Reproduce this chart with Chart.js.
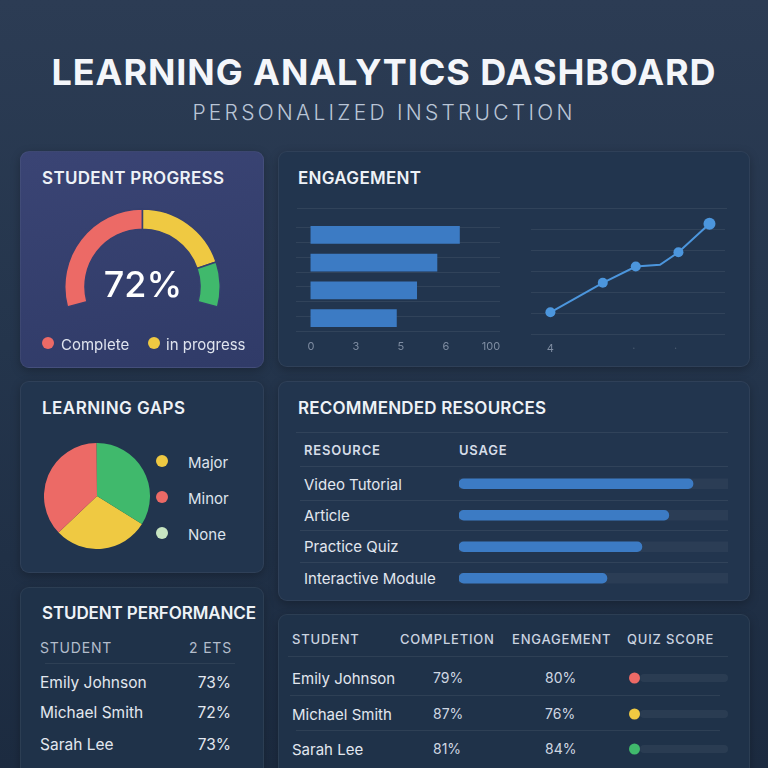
<!DOCTYPE html>
<html>
<head>
<meta charset="utf-8">
<title>Learning Analytics Dashboard</title>
<script src="https://cdn.jsdelivr.net/npm/chart.js@4.4.1/dist/chart.umd.min.js"></script>
<style>
  html, body { margin: 0; padding: 0; }
  body {
    width: 768px; height: 768px; overflow: hidden; position: relative;
    font-family: Inter, "Noto Sans", sans-serif; color: #e6ebf2;
    background: linear-gradient(180deg, #2c3c54 0%, #24354c 45%, #1c2b40 100%);
  }
  .card { position: absolute; border-radius: 9px; background: #22354e; box-sizing: border-box;
    border: 1px solid rgba(255,255,255,0.06); box-shadow: 0 3px 10px rgba(0,0,0,0.25); }
  .t { position: absolute; line-height: 1; white-space: nowrap; transform: translateY(-50%); }
  .h { font-size: 17px; font-weight: 600; color: #eef2f7; letter-spacing: 0.6px; }
  .th { font-size: 13px; font-weight: 600; color: #d6dde8; letter-spacing: 0.8px; }
  .cell { font-size: 15px; color: #e2e7ef; }
  .rule { position: absolute; height: 1px; background: rgba(255,255,255,0.07); }
  canvas { position: absolute; }
</style>
</head>
<body>

<div class="t" style="left:0;width:768px;text-align:center;top:72px;font-size:36px;font-weight:700;color:#f4f6fa" data-w="664">LEARNING ANALYTICS DASHBOARD</div>
<div class="t" style="left:0;width:768px;text-align:center;top:112px;font-size:21px;font-weight:300;color:#b9c5d6" data-w="380">PERSONALIZED INSTRUCTION</div>

<!-- cards -->
<div class="card" style="left:20px;top:151px;width:244px;height:217px;background:linear-gradient(170deg,#3a4474 0%,#303b68 100%)"></div>
<div class="card" style="left:278px;top:151px;width:472px;height:216px"></div>
<div class="card" style="left:20px;top:381px;width:244px;height:192px"></div>
<div class="card" style="left:278px;top:381px;width:472px;height:220px"></div>
<div class="card" style="left:20px;top:587px;width:244px;height:200px;background:#1f3249"></div>
<div class="card" style="left:278px;top:614px;width:472px;height:180px;background:#1f3249"></div>

<!-- student progress -->
<div class="t h" style="left:42px;top:178px" data-w="182">STUDENT PROGRESS</div>
<canvas id="gauge" width="157" height="100" style="left:64px;top:208px"></canvas>
<div class="t" style="left:43px;width:200px;text-align:center;top:284px;font-size:36px;font-weight:500;color:#ffffff">72%</div>
<div id="progressLegend"></div>

<!-- engagement -->
<div class="t h" style="left:298px;top:178px" data-w="123">ENGAGEMENT</div>
<div class="rule" style="left:297px;top:208px;width:430px"></div>
<canvas id="engBars" width="214" height="141" style="left:296px;top:221px"></canvas>
<canvas id="engLine" width="210" height="153" style="left:525px;top:211px"></canvas>

<!-- learning gaps -->
<div class="t h" style="left:42px;top:408px" data-w="143">LEARNING GAPS</div>
<canvas id="gapsPie" width="106" height="106" style="left:44px;top:443px"></canvas>
<div id="gapsLegend"></div>

<!-- recommended resources -->
<div class="t h" style="left:298px;top:408px" data-w="248">RECOMMENDED RESOURCES</div>
<div class="rule" style="left:296px;top:432px;width:432px"></div>
<div class="t th" style="left:304px;top:450px">RESOURCE</div>
<div class="t th" style="left:459px;top:450px">USAGE</div>
<div id="resourceRows"></div>
<canvas id="resBars" width="269" height="126" style="left:459px;top:468px"></canvas>

<!-- student performance -->
<div class="t h" style="left:42px;top:613px" data-w="214">STUDENT PERFORMANCE</div>
<div class="t" style="left:40px;top:648px;font-size:14px;color:#b3bdcc;letter-spacing:0.8px">STUDENT</div>
<div class="t" style="right:536px;top:648px;font-size:14px;color:#b3bdcc;letter-spacing:0.8px">2 ETS</div>
<div class="rule" style="left:45px;top:663px;width:190px"></div>
<div id="perfRows"></div>

<!-- student table -->
<div class="t th" style="left:292px;top:639px;font-weight:500;color:#cbd4e0">STUDENT</div>
<div class="t th" style="left:400px;top:639px;font-weight:500;color:#cbd4e0">COMPLETION</div>
<div class="t th" style="left:512px;top:639px;font-weight:500;color:#cbd4e0">ENGAGEMENT</div>
<div class="t th" style="left:627px;top:639px;font-weight:500;color:#cbd4e0">QUIZ SCORE</div>
<div class="rule" style="left:288px;top:656px;width:440px"></div>
<div class="rule" style="left:290px;top:695px;width:430px"></div>
<div class="rule" style="left:296px;top:730px;width:424px"></div>
<div id="tableRows"></div>

<script>
// ---- data ----
const progressLabels = ['Complete', 'In progress', 'Ahead'];
const progressValues = [50, 34, 16];

const engagementCats = ['1', '2', '3', '4'];
const engagementBars = [3.3, 2.8, 2.35, 1.9];
const engagementTicks = ['0', '3', '5', '6', '100'];

const trendX = [4, 9.4, 12.8, 15.3, 17.2, 20.4];
const trendY = [1.04, 2.45, 3.23, 3.31, 3.91, 5.28];
const trendTicks = [4, 12.6, 16.9];
const trendTickLabels = ['4', '·', '·'];

const gapLabels = ['Major', 'Minor', 'None'];
const gapValues = [29, 37, 34];

const resourceNames = ['Video Tutorial', 'Article', 'Practice Quiz', 'Interactive Module'];
const resourceUsage = [87, 78, 68, 55];
const resourceMax = 100;

const studentNames = ['Emily Johnson', 'Michael Smith', 'Sarah Lee'];
const studentTotals = [73, 72, 73];
const studentCompletion = [79, 87, 81];
const studentEngagement = [80, 76, 84];
const quizStatus = ['low', 'mid', 'high'];

// ---- styles ----
const RED = '#ec6a66', YELLOW = '#efc942', GREEN = '#40b96c', BLUE = '#3c7bc4', LINE = '#4c96dd';
const GRID = 'rgba(255,255,255,0.07)';
const statusColor = { low: RED, mid: YELLOW, high: GREEN };

Chart.defaults.animation = false;
Chart.defaults.responsive = false;
Chart.defaults.devicePixelRatio = 1;
Chart.defaults.plugins.legend.display = false;
Chart.defaults.plugins.tooltip.enabled = false;
Chart.defaults.font.family = 'Inter, "Noto Sans", sans-serif';

function put(parent, text, style, cls) {
    const el = document.createElement('div');
    el.className = 't ' + (cls || '');
    el.textContent = text;
    el.setAttribute('style', style);
    document.getElementById(parent).appendChild(el);
    return el;
}

// gauge
new Chart(document.getElementById('gauge'), {
    type: 'doughnut',
    data: {
        labels: progressLabels,
        datasets: [{ data: progressValues, backgroundColor: [RED, YELLOW, GREEN], borderColor: '#36406f', borderWidth: 1.5 }]
    },
    options: { rotation: -105, circumference: 210, cutout: '74%' }
});
put('progressLegend', '', 'left:42px;top:343px;width:12px;height:12px;background:' + RED + ';border-radius:50%');
put('progressLegend', progressLabels[0], 'left:61px;top:344px;font-size:15px;color:#dfe4ee');
put('progressLegend', '', 'left:148px;top:343px;width:12px;height:12px;background:' + YELLOW + ';border-radius:50%');
put('progressLegend', progressLabels[1].toLowerCase(), 'left:166px;top:344px;font-size:15px;color:#dfe4ee');

// engagement bars
new Chart(document.getElementById('engBars'), {
    type: 'bar',
    data: { labels: engagementCats, datasets: [{ data: engagementBars, backgroundColor: BLUE, barThickness: 17 }] },
    options: {
        indexAxis: 'y',
        layout: { padding: { right: 10 } },
        scales: {
            x: {
                min: -0.33, max: 4.2,
                afterBuildTicks: s => { s.ticks = engagementTicks.map((t, i) => ({ value: i })); },
                ticks: { callback: v => engagementTicks[v], color: '#7f8da2', font: { size: 11 }, padding: 8, maxRotation: 0, autoSkip: false },
                grid: { display: false, drawTicks: false }, border: { display: false },
                afterFit: s => { s.height = 30; }
            },
            y: { display: false },
            yGrid: {
                axis: 'y', type: 'linear', position: 'left', min: 0, max: 6.4,
                ticks: { display: false, stepSize: 1, includeBounds: false },
                grid: { color: GRID, drawTicks: false }, border: { display: false },
                afterFit: s => { s.width = 0; }
            }
        }
    }
});

// engagement trend
new Chart(document.getElementById('engLine'), {
    type: 'line',
    data: {
        datasets: [{
            data: trendX.map((x, i) => ({ x: x, y: trendY[i] })),
            borderColor: LINE, backgroundColor: LINE, borderWidth: 2,
            pointRadius: [5, 5, 5, 0, 5, 6], pointBorderWidth: 0, tension: 0, clip: false
        }]
    },
    options: {
        layout: { padding: { right: 10 } },
        scales: {
            x: {
                type: 'linear', min: 2, max: 22,
                afterBuildTicks: s => { s.ticks = trendTicks.map(v => ({ value: v })); },
                ticks: {
                    callback: (v, i) => trendTickLabels[i],
                    color: ctx => ctx.index === 0 ? '#7f8da2' : '#4b5b71',
                    font: { size: 11 }, padding: 8, maxRotation: 0, autoSkip: false
                },
                grid: { display: false, drawTicks: false }, border: { display: false },
                afterFit: s => { s.height = 30; }
            },
            y: {
                min: 0, max: 5.6,
                ticks: { display: false, stepSize: 1, includeBounds: false },
                grid: { color: GRID, drawTicks: false }, border: { display: false },
                afterFit: s => { s.width = 0; }
            }
        }
    }
});

// learning gaps
new Chart(document.getElementById('gapsPie'), {
    type: 'pie',
    data: { labels: gapLabels, datasets: [{ data: gapValues, backgroundColor: [YELLOW, RED, GREEN], borderWidth: 0 }] },
    options: { rotation: 122 }
});
const gapLegendColors = [YELLOW, RED, '#c8e6c2'];
const gapLegendY = [461, 497, 533];
gapLabels.forEach((l, i) => {
    put('gapsLegend', '', 'left:156px;top:' + gapLegendY[i] + 'px;width:12px;height:12px;border-radius:50%;background:' + gapLegendColors[i]);
    put('gapsLegend', l, 'left:188px;top:' + (gapLegendY[i] + 1) + 'px;font-size:15px;color:#dde3ec');
});

// recommended resources
const resRowY = [484, 515, 546, 578];
const resRuleY = [466, 500, 530, 562];
resRuleY.forEach(y => {
    const r = document.createElement('div');
    r.className = 'rule';
    r.setAttribute('style', 'left:300px;top:' + y + 'px;width:428px');
    document.getElementById('resourceRows').appendChild(r);
});
resourceNames.forEach((n, i) => put('resourceRows', n, 'left:304px;top:' + resRowY[i] + 'px', 'cell'));
new Chart(document.getElementById('resBars'), {
    type: 'bar',
    data: {
        labels: resourceNames,
        datasets: [
            { data: resourceUsage, backgroundColor: BLUE, barThickness: 10, borderRadius: 5, borderSkipped: false, grouped: false, order: 0 },
            { data: resourceNames.map(() => resourceMax), backgroundColor: 'rgba(255,255,255,0.045)', barThickness: 10, grouped: false, order: 1 }
        ]
    },
    options: { indexAxis: 'y', scales: { x: { display: false, min: 0, max: resourceMax }, y: { display: false } } }
});

// student performance
const perfRowY = [683, 713, 745];
studentNames.forEach((n, i) => {
    put('perfRows', n, 'left:40px;top:' + perfRowY[i] + 'px;font-size:15.5px', 'cell');
    put('perfRows', studentTotals[i] + '%', 'right:537px;top:' + perfRowY[i] + 'px;font-size:15.5px', 'cell');
});

// student table
const tableRowY = [678, 714, 749];
studentNames.forEach((n, i) => {
    const y = tableRowY[i];
    put('tableRows', n, 'left:292px;top:' + y + 'px', 'cell');
    put('tableRows', studentCompletion[i] + '%', 'left:433px;top:' + y + 'px;font-size:14px;color:#cfd7e2', 'cell');
    put('tableRows', studentEngagement[i] + '%', 'left:545px;top:' + y + 'px;font-size:14px;color:#cfd7e2', 'cell');
    put('tableRows', '', 'left:640px;top:' + y + 'px;width:88px;height:8px;border-radius:4px;background:rgba(255,255,255,0.05)');
    put('tableRows', '', 'left:629px;top:' + y + 'px;width:11px;height:11px;border-radius:50%;background:' + statusColor[quizStatus[i]]);
});

// stretch headings to the reference widths
document.querySelectorAll('[data-w]').forEach(el => {
    const target = +el.dataset.w;
    const probe = document.createElement('span');
    probe.textContent = el.textContent;
    probe.style.cssText = 'position:absolute;visibility:hidden;white-space:nowrap;font:' + getComputedStyle(el).font + ';letter-spacing:0';
    document.body.appendChild(probe);
    const w = probe.getBoundingClientRect().width;
    probe.remove();
    el.style.letterSpacing = ((target - w) / (el.textContent.length - 1)) + 'px';
});
</script>
</body>
</html>
